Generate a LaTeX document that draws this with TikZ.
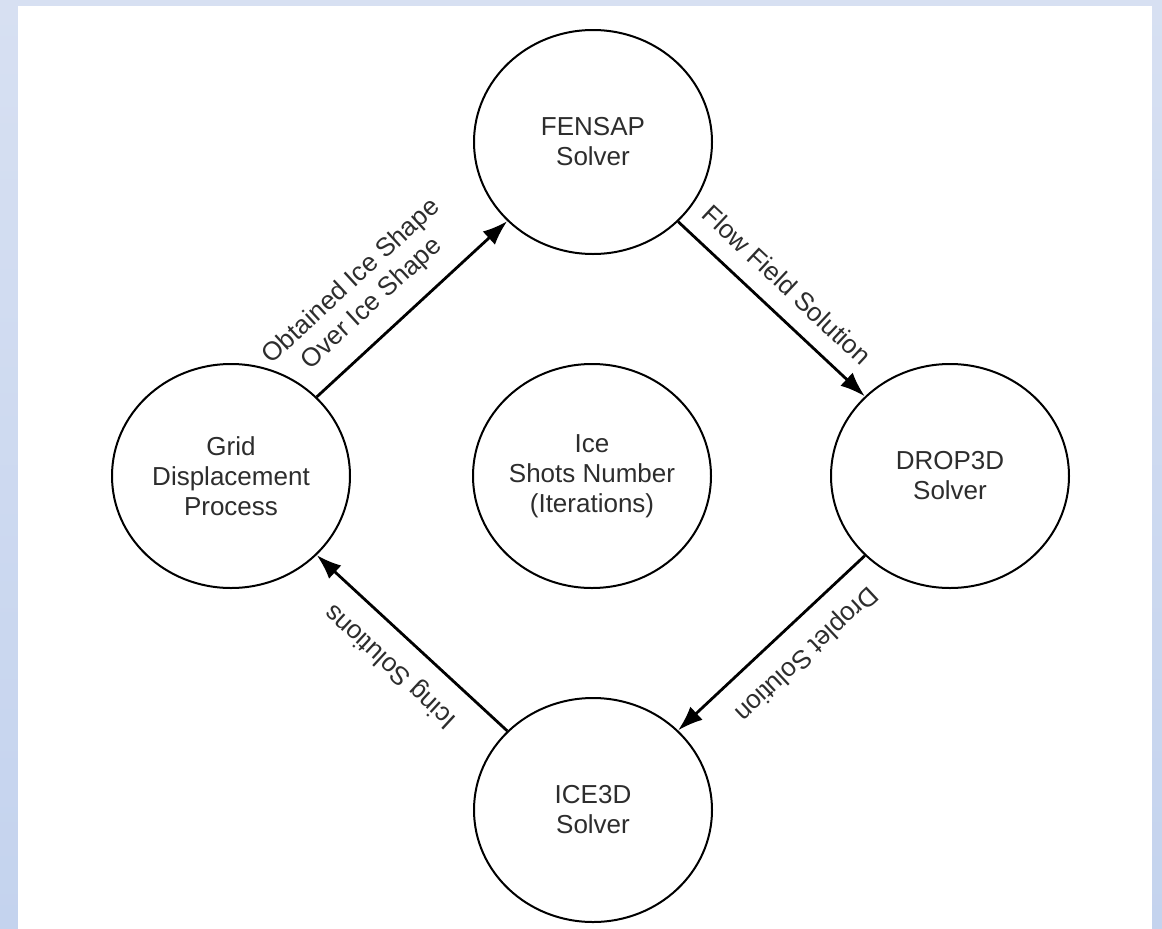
\documentclass[tikz,border=0pt]{standalone}
\usepackage{fontspec}
\setmainfont{Liberation Sans}
\usepackage{tikz}
\usetikzlibrary{positioning,arrows.meta,shapes.geometric}

\definecolor{frametop}{RGB}{215,224,242}
\definecolor{framemid}{RGB}{180,200,232}
\definecolor{framebot}{RGB}{196,211,238}
\definecolor{inktext}{RGB}{45,45,45}

\begin{document}
\begin{tikzpicture}[x=1pt,y=-1pt,font=\fontsize{26}{30}\selectfont,>={Latex[length=25pt,width=18pt]}]
  \tikzset{
    stage/.style={draw,ellipse,line width=2pt,minimum width=238pt,minimum height=224pt,
      inner sep=0pt,align=center,text=inktext},
    flow/.style={->,line width=2.8pt},
    tag/.style={midway,sloped,allow upside down,above=14pt,align=center,text=inktext}
  }
  % blue frame round the page
  \shade[top color=frametop,middle color=framemid,bottom color=framebot] (0,0) rectangle (1162,929);
  \fill[white] (18,6) rectangle (1152,929);
  \foreach \name/\x/\y/\txt in {fensap/593/142/{FENSAP\\Solver},
      grid/231/476/{Grid\\Displacement\\Process},
      shots/592/476/{Ice\\Shots Number\\(Iterations)},
      drop/950/476/{DROP3D\\Solver},
      ice/593/810/{ICE3D\\Solver}}{
    \node[stage] (\name) at (\x,\y) {\txt};
  }
  \draw[flow] (grid) -- (fensap) node[tag,pos=0.4]{Obtained Ice Shape\\Over Ice Shape};
  \draw[flow] (fensap) -- (drop) node[tag,pos=0.48]{Flow Field Solution};
  \draw[flow] (drop) -- (ice) node[tag,pos=0.43]{Droplet Solution};
  \draw[flow] (ice) -- (grid) node[tag,pos=0.5]{Icing Solutions};
\end{tikzpicture}
\end{document}
